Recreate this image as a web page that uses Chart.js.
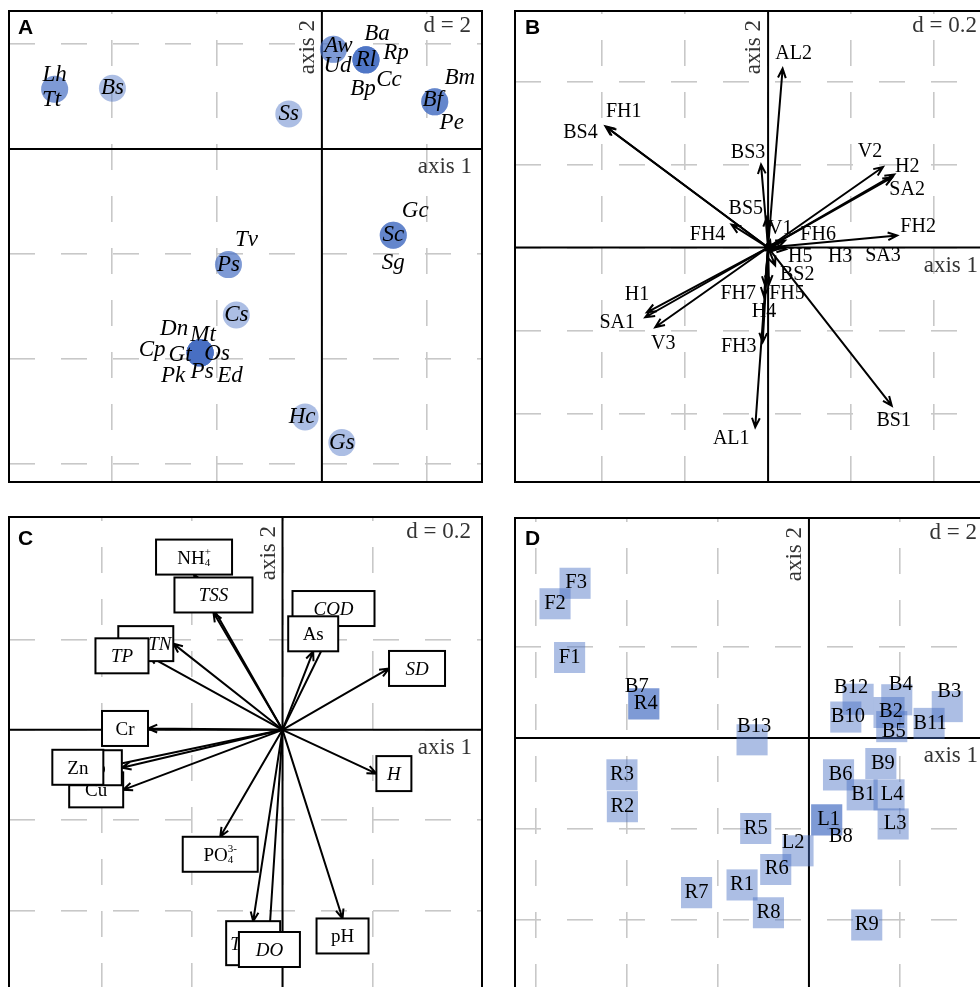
<!DOCTYPE html>
<html>
<head>
<meta charset="utf-8">
<script src="https://cdn.jsdelivr.net/npm/chart.js@4.4.1/dist/chart.umd.min.js"></script>
<style>
  html, body { margin: 0; padding: 0; background: #fff; }
  body { width: 980px; height: 987px; overflow: hidden; position: relative; }
  canvas { position: absolute; }
</style>
</head>
<body>
<canvas id="chartA"></canvas>
<canvas id="chartB"></canvas>
<canvas id="chartC"></canvas>
<canvas id="chartD"></canvas>
<script>
// ---------- A: species scores ----------
const speciesA = ['Lh','Tt','Bs','Ss','Aw','Ud','Ba','Rp','Rl','Cc','Bp','Bm','Bf','Pe','Gc','Sc','Sg','Tv','Ps','Cs',
                  'Dn','Mt','Cp','Gt','Os','Pk','Ps','Ed','Hc','Gs'];
const axis1A = [-5.09,-5.09,-3.99,-0.63,0.22,0.22,0.84,0.84,0.84,0.84,0.84,2.15,2.15,2.15,1.36,1.36,1.36,-1.78,-1.78,-1.63,
                -2.32,-2.32,-2.32,-2.32,-2.32,-2.32,-2.32,-2.32,-0.32,0.38];
const axis2A = [1.14,1.14,1.16,0.67,1.90,1.90,1.70,1.70,1.70,1.70,1.70,0.90,0.90,0.90,-1.64,-1.64,-1.64,-2.20,-2.20,-3.16,
                -3.88,-3.88,-3.88,-3.88,-3.88,-3.88,-3.88,-3.88,-5.10,-5.59];

// ---------- B: habitat variables ----------
const varsB = ['AL2','FH1','BS4','BS3','BS5','V1','FH4','FH6','V2','H2','SA2','FH2','H5','H3','SA3',
               'BS2','FH7','FH5','H4','FH3','AL1','BS1','H1','SA1','V3'];
const axis1B = [0.035,-0.389,-0.392,-0.017,-0.003,0.005,-0.088,0.041,0.277,0.304,0.299,0.311,0.015,0.029,0.043,
                0.017,-0.007,0.002,-0.010,-0.013,-0.031,0.298,-0.292,-0.296,-0.272];
const axis2B = [0.431,0.290,0.292,0.200,0.073,0.017,0.055,0.017,0.194,0.176,0.169,0.029,-0.005,-0.002,-0.004,
                -0.043,-0.092,-0.089,-0.118,-0.228,-0.433,-0.381,-0.156,-0.168,-0.192];

// ---------- C: water quality variables ----------
const varsC = ['NH_4^+','TSS','COD','As','TN','TP','SD','Cr','Cu','Pb','Zn','H','PO_4^3-','T_w','DO','pH'];
const axis1C = [-0.196,-0.153,0.113,0.068,-0.242,-0.297,0.236,-0.298,-0.353,-0.356,-0.397,0.208,-0.138,-0.065,-0.029,0.133];
const axis2C = [0.344,0.260,0.230,0.174,0.191,0.164,0.136,0.003,-0.133,-0.084,-0.083,-0.097,-0.237,-0.424,-0.448,-0.418];

// ---------- D: sites ----------
const sitesD = ['F3','F2','F1','B7','R4','B13','B12','B4','B3','B10','B2','B5','B11','R3','R2','B6','B9','B1','L4','L3',
                'L1','B8','R5','L2','R6','R1','R7','R8','R9'];
const axis1D = [-5.14,-5.58,-5.26,-3.63,-3.63,-1.25,1.08,1.93,3.04,0.81,1.76,1.82,2.64,-4.11,-4.10,0.65,1.58,1.17,1.76,1.85,
                0.39,0.39,-1.17,-0.24,-0.73,-1.47,-2.47,-0.89,1.27];
const axis2D = [3.40,2.95,1.77,0.75,0.75,-0.04,0.85,0.84,0.69,0.46,0.56,0.25,0.32,-0.81,-1.51,-0.81,-0.56,-1.25,-1.25,-1.89,
                -1.80,-1.80,-1.99,-2.48,-2.89,-3.23,-3.40,-3.84,-4.11];

// grid positions (multiples of d)
const gridXA = [-4, -2, 0, 2],            gridYA = [-6, -4, -2, 0, 2];
const gridXB = [-0.4, -0.2, 0, 0.2, 0.4], gridYB = [-0.4, -0.2, 0, 0.2, 0.4];
const gridXC = [-0.4, -0.2, 0, 0.2],      gridYC = [-0.4, -0.2, 0, 0.2];
const gridXD = [-6, -4, -2, 0, 2],        gridYD = [-4, -2, 0, 2];

// ---------- label placement (pixels, relative to the mark) ----------
const labelDxA = [0,-3,0,0,5,4,11,30,0,23,-3,25,-2,17,22,0,0,18,0,0,-26,3,-48,-20,17,-27,2,30,-3,0];
const labelDyA = [-14,11,0,0,-3,17,-26,-7,0,20,29,-24,-2,21,-24,0,28,-25,0,0,-24,-18,-3,2,1,23,19,23,0,0];
const labelDxB = [11,17,-25,-13,-21,10,-24,33,-13,13,15,21,26,60,97,22,-27,18,0,-24,-24,2,-10,-28,8];
const labelDyB = [-15,-15,6,-12,-8,-12,10,-6,-15,-8,12,-9,7,8,7,9,8,9,15,5,12,15,-18,5,17];
const italicC = [false,true,true,false,true,true,true,false,false,false,false,true,false,true,true,false];
const boxWC = [76,78,82,50,55,53,56,46,54,52,51,35,75,54,61,52];
const boxHC = [35,35,35,35,35,35,35,35,35,35,35,35,35,44,35,35];
const textDxC = [0,0,0,0,14,0,0,0,0,0,0,0,0,-14,0,0];
const labelDxD = [1,0,0,-7,2,2,-7,4,2,2,2,2,1,0,0,2,2,1,3,2,2,14,0,-5,1,0,0,0,0];
const labelDyD = [-1,0,0,-17,0,-13,-12,-15,-15,0,-1,5,0,0,0,0,0,0,0,0,0,17,0,-8,-1,0,0,0,0];

const PAD = 4;
const SERIF = '"Liberation Serif", "Times New Roman", serif';
const SANS = '"Liberation Sans", Arial, sans-serif';
const FILL = 'rgba(70, 110, 195, 0.45)';
const GRID = '#c8c8c8';
const HEAD = 10, ANG = 0.4;

const panels = {
  A: { id: 'chartA', frame: {x: 9, y: 11, w: 473, h: 471}, xr: [-5.96, 3.05], yr: [-6.34, 2.63],
       gx: gridXA, gy: gridYA, d: 'd = 2', letter: 'A', letterAt: [9, 22.5] },
  B: { id: 'chartB', frame: {x: 515, y: 11, w: 473, h: 471}, xr: [-0.61, 0.53], yr: [-0.565, 0.57],
       gx: gridXB, gy: gridYB, d: 'd = 0.2', letter: 'B', letterAt: [10, 22.5] },
  C: { id: 'chartC', frame: {x: 9, y: 517, w: 473, h: 472}, xr: [-0.606, 0.442], yr: [-0.5743, 0.4716],
       gx: gridXC, gy: gridYC, d: 'd = 0.2', letter: 'C', letterAt: [9, 28] },
  D: { id: 'chartD', frame: {x: 515, y: 518, w: 473, h: 472}, xr: [-6.46, 3.935], yr: [-5.539, 4.835],
       gx: gridXD, gy: gridYD, d: 'd = 2', letter: 'D', letterAt: [10, 27] }
};

function xy(xs, ys) { return xs.map((x, i) => ({x: x, y: ys[i]})); }

function scaleOpts(range, ticks, vertical, len) {
  return {
    type: 'linear', min: range[0], max: range[1],
    afterBuildTicks: s => { s.ticks = ticks.map(v => ({value: v})); },
    afterFit: s => { if (vertical) s.width = 0; else s.height = 0; },
    ticks: {display: false},
    grid: {color: GRID, lineWidth: 1.6, drawTicks: false},
    // vertical grid lines start their dash pattern at the bottom edge
    border: {display: false, dash: [26, 26], dashOffset: vertical ? 0 : (((26 - len) % 52) + 52) % 52}
  };
}

function arrow(ctx, x0, y0, x1, y1) {
  const a = Math.atan2(y1 - y0, x1 - x0);
  ctx.beginPath();
  ctx.moveTo(x0, y0); ctx.lineTo(x1, y1);
  ctx.moveTo(x1 - HEAD * Math.cos(a - ANG), y1 - HEAD * Math.sin(a - ANG));
  ctx.lineTo(x1, y1);
  ctx.lineTo(x1 - HEAD * Math.cos(a + ANG), y1 - HEAD * Math.sin(a + ANG));
  ctx.stroke();
}

// text like NH_4^+ : base, stacked subscript / superscript
function drawRich(ctx, spec, cx, cy, italic) {
  const m = spec.match(/^([^_^]+)(?:_([^^]+))?(?:\^(.+))?$/);
  const base = m[1], sub = m[2] || '', sup = m[3] || '';
  const big = (italic ? 'italic ' : '') + '19px ' + SERIF;
  const small = (italic ? 'italic ' : '') + '11px ' + SERIF;
  ctx.font = big; const bw = ctx.measureText(base).width;
  ctx.font = small; const sw = Math.max(ctx.measureText(sub).width, ctx.measureText(sup).width);
  const x = cx - (bw + sw) / 2;
  ctx.textAlign = 'left'; ctx.textBaseline = 'alphabetic';
  ctx.font = big; ctx.fillText(base, x, cy + 6.5);
  ctx.font = small;
  if (sub) ctx.fillText(sub, x + bw, cy + 9);
  if (sup) ctx.fillText(sup, x + bw, cy - 2);
}

function overlay(p, drawMarks) {
  return {
    id: 'overlay' + p.letter,
    beforeDatasetsDraw(chart) {
      const {ctx, chartArea: a, scales: {x, y}} = chart;
      const x0 = x.getPixelForValue(0), y0 = y.getPixelForValue(0);
      ctx.save();
      ctx.strokeStyle = '#000'; ctx.lineWidth = 2;
      ctx.beginPath();
      ctx.moveTo(x0, a.top); ctx.lineTo(x0, a.bottom);
      ctx.moveTo(a.left, y0); ctx.lineTo(a.right, y0);
      ctx.stroke();
      ctx.restore();
    },
    afterDatasetsDraw(chart) {
      const {ctx, chartArea: a, scales: {x, y}} = chart;
      const x0 = x.getPixelForValue(0), y0 = y.getPixelForValue(0);
      ctx.save();
      drawMarks(chart, ctx, x0, y0);

      ctx.fillStyle = '#333';
      ctx.font = '23px ' + SERIF;
      ctx.textBaseline = 'alphabetic';
      ctx.textAlign = 'right';
      ctx.fillText('axis 1', a.right - 10, y0 + 24);
      ctx.fillText(p.d, a.right - 11, a.top + 21);
      ctx.save();
      ctx.translate(x0 - 8, a.top + 9);
      ctx.rotate(-Math.PI / 2);
      ctx.fillText('axis 2', 0, 0);
      ctx.restore();

      ctx.fillStyle = '#000';
      ctx.font = 'bold 21px ' + SANS;
      ctx.textAlign = 'left';
      ctx.fillText(p.letter, a.left + p.letterAt[0], a.top + p.letterAt[1]);

      ctx.strokeStyle = '#000'; ctx.lineWidth = 2;
      ctx.strokeRect(a.left, a.top, a.right - a.left, a.bottom - a.top);
      ctx.restore();
    }
  };
}

function makePanel(p, dataset, drawMarks) {
  const c = document.getElementById(p.id);
  c.width = p.frame.w + 2 * PAD;
  c.height = p.frame.h + 2 * PAD;
  c.style.left = (p.frame.x - PAD) + 'px';
  c.style.top = (p.frame.y - PAD) + 'px';
  return new Chart(c, {
    type: 'scatter',
    data: {datasets: [dataset]},
    options: {
      responsive: false, animation: false, devicePixelRatio: 1, events: [],
      layout: {padding: PAD, autoPadding: false},
      plugins: {legend: {display: false}, tooltip: {enabled: false}},
      scales: {
        x: scaleOpts(p.xr, p.gx, false, p.frame.h),
        y: scaleOpts(p.yr, p.gy, true, p.frame.w)
      }
    },
    plugins: [overlay(p, drawMarks)]
  });
}

// A: circles for species
makePanel(panels.A, {
  data: xy(axis1A, axis2A), pointRadius: 13.5, pointHoverRadius: 13.5,
  backgroundColor: FILL, borderWidth: 0
}, (chart, ctx) => {
  const pts = chart.getDatasetMeta(0).data;
  ctx.fillStyle = '#000';
  ctx.font = 'italic 23px ' + SERIF;
  ctx.textAlign = 'center'; ctx.textBaseline = 'middle';
  speciesA.forEach((s, i) => ctx.fillText(s, pts[i].x + labelDxA[i], pts[i].y + labelDyA[i]));
});

// B: arrows for habitat variables
makePanel(panels.B, {
  data: xy(axis1B, axis2B), pointRadius: 0, pointHoverRadius: 0
}, (chart, ctx, x0, y0) => {
  const pts = chart.getDatasetMeta(0).data;
  ctx.strokeStyle = '#000'; ctx.lineWidth = 2; ctx.lineJoin = 'miter';
  pts.forEach(pt => arrow(ctx, x0, y0, pt.x, pt.y));
  ctx.fillStyle = '#000';
  ctx.font = '20px ' + SERIF;
  ctx.textAlign = 'center'; ctx.textBaseline = 'middle';
  varsB.forEach((s, i) => ctx.fillText(s, pts[i].x + labelDxB[i], pts[i].y + labelDyB[i]));
});

// C: arrows with boxed labels
makePanel(panels.C, {
  data: xy(axis1C, axis2C), pointRadius: 0, pointHoverRadius: 0
}, (chart, ctx, x0, y0) => {
  const pts = chart.getDatasetMeta(0).data;
  ctx.strokeStyle = '#000'; ctx.lineWidth = 2;
  pts.forEach(pt => arrow(ctx, x0, y0, pt.x, pt.y));
  varsC.forEach((s, i) => {
    const tx = pts[i].x, ty = pts[i].y, w = boxWC[i], h = boxHC[i];
    const dx = tx - x0, dy = ty - y0;
    let cx = tx, cy = ty;
    if (Math.abs(dx) >= Math.abs(dy)) cx = tx + Math.sign(dx) * w / 2;
    else cy = ty + Math.sign(dy) * h / 2;
    ctx.fillStyle = '#fff';
    ctx.fillRect(cx - w / 2, cy - h / 2, w, h);
    ctx.strokeStyle = '#000'; ctx.lineWidth = 2;
    ctx.strokeRect(cx - w / 2, cy - h / 2, w, h);
    ctx.fillStyle = '#000';
    drawRich(ctx, s, cx + textDxC[i], cy, italicC[i]);
  });
});

// D: squares for sites
makePanel(panels.D, {
  data: xy(axis1D, axis2D), pointStyle: 'rect', pointRadius: 22, pointHoverRadius: 22,
  backgroundColor: FILL, borderWidth: 0
}, (chart, ctx) => {
  const pts = chart.getDatasetMeta(0).data;
  ctx.fillStyle = '#000';
  ctx.font = '20.5px ' + SERIF;
  ctx.textAlign = 'center'; ctx.textBaseline = 'middle';
  sitesD.forEach((s, i) => ctx.fillText(s, pts[i].x + labelDxD[i], pts[i].y + labelDyD[i]));
});
</script>
</body>
</html>
